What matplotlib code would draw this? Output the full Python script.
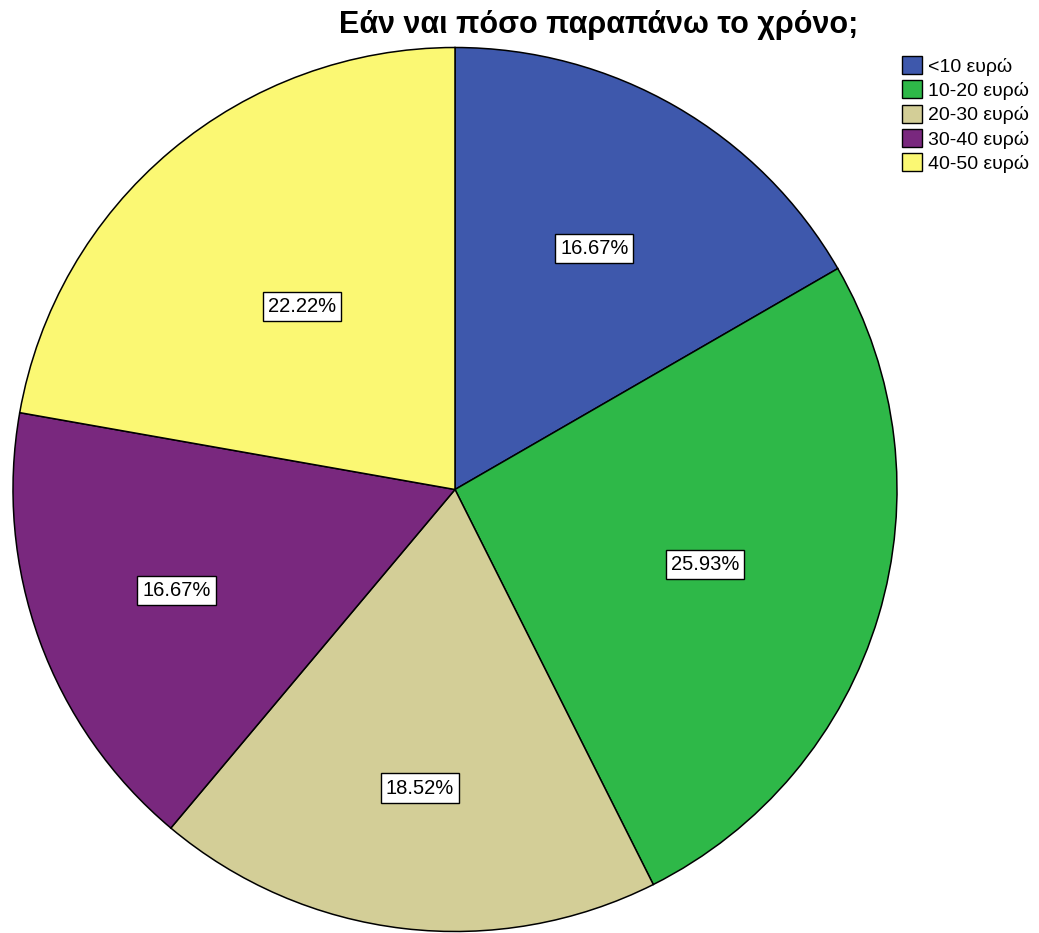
import numpy as np
import matplotlib
matplotlib.use("Agg")
import matplotlib.pyplot as plt

plt.rcParams["font.family"] = ["Liberation Sans", "DejaVu Sans"]

title = "Εάν ναι πόσο παραπάνω το χρόνο;"
categories = ["<10 ευρώ", "10-20 ευρώ", "20-30 ευρώ", "30-40 ευρώ", "40-50 ευρώ"]
percents = [16.67, 25.93, 18.52, 16.67, 22.22]
colors = ["#3E58AC", "#2EB848", "#D3CE97", "#79287E", "#FBF873"]
# radial position of each percent label, as a fraction of the radius
label_r = [0.63, 0.59, 0.68, 0.67, 0.54]

W, H = 1039, 933
fig = plt.figure(figsize=(W / 100, H / 100), dpi=100)

# pie centre and radius in pixels
cx, cy, r = 455, 489.5, 442
ax = fig.add_axes([(cx - r) / W, (H - cy - r) / H, 2 * r / W, 2 * r / H])

wedges, _ = ax.pie(
    percents, colors=colors, startangle=90, counterclock=False, radius=1,
    wedgeprops=dict(edgecolor="black", linewidth=1.1),
)
for w, pct, lr in zip(wedges, percents, label_r):
    mid = np.deg2rad((w.theta1 + w.theta2) / 2)
    ax.text(lr * np.cos(mid), lr * np.sin(mid), f"{pct:.2f}%",
            ha="center", va="center", fontsize=14.5,
            bbox=dict(boxstyle="square,pad=0.25", facecolor="white",
                      edgecolor="black", linewidth=1.0))
ax.set_xlim(-1, 1)
ax.set_ylim(-1, 1)
ax.set_aspect("equal")

fig.text(599 / W, 1 - 33 / H, title, ha="center", va="baseline",
         fontsize=22, fontweight="bold")

fig.legend(wedges, categories, loc="upper left",
           bbox_to_anchor=(902 / W, 1 - 56 / H), frameon=False,
           fontsize=14, handlelength=1.05, handleheight=1.05,
           handletextpad=0.3, labelspacing=0.24, borderpad=0,
           borderaxespad=0)
for p in fig.legends[0].get_patches():
    p.set_edgecolor("black")
    p.set_linewidth(1.0)

fig.savefig("out.png", dpi=100)
